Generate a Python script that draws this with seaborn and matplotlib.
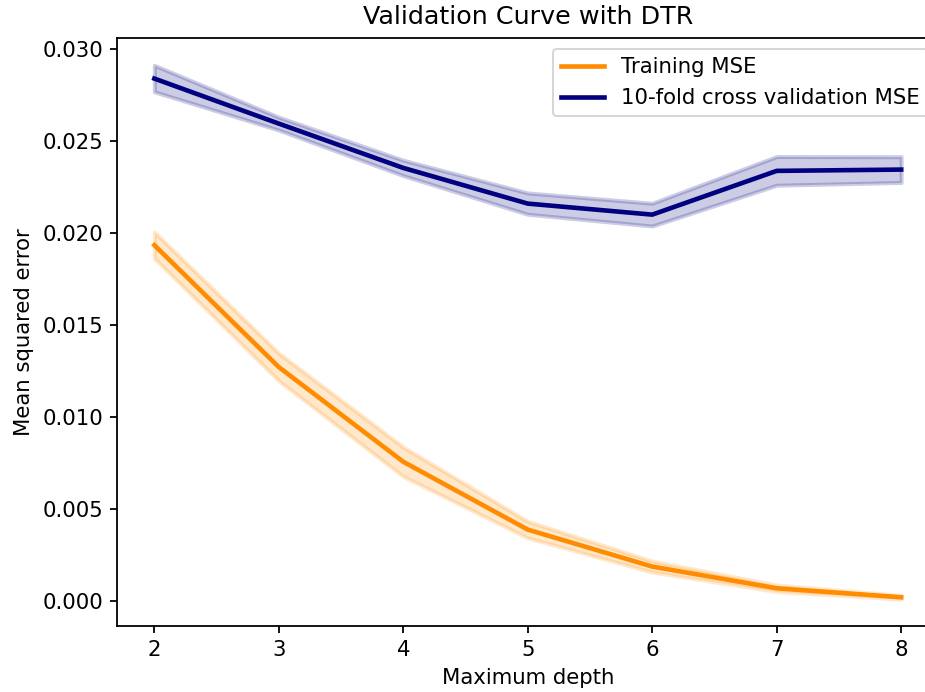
import numpy as np
import pandas as pd
import matplotlib
matplotlib.use("Agg")
import matplotlib.pyplot as plt
import seaborn as sns

depth = [2, 3, 4, 5, 6, 7, 8]
train_mse = [0.01935, 0.01272, 0.00757, 0.00388, 0.00187, 0.00069, 0.00020]
train_std = [0.00072, 0.00075, 0.00080, 0.00045, 0.00030, 0.00018, 0.00010]
cv_mse = [0.02841, 0.02596, 0.02355, 0.02161, 0.02101, 0.02339, 0.02346]
cv_std = [0.00072, 0.00035, 0.00042, 0.00058, 0.00062, 0.00078, 0.00070]

labels = ["Training MSE", "10-fold cross validation MSE"]
colors = ["darkorange", "navy"]

dpi = 144
fs = 10.6
fig = plt.figure(figsize=(925 / dpi, 692 / dpi), dpi=dpi)
ax = fig.add_axes([117 / 925, 66.4 / 692, (938.5 - 117) / 925, (625.6 - 38.3) / 692])

df = pd.DataFrame({
    "depth": depth * 2,
    "mse": train_mse + cv_mse,
    "series": [labels[0]] * len(depth) + [labels[1]] * len(depth),
})

sns.lineplot(data=df, x="depth", y="mse", hue="series", palette=dict(zip(labels, colors)),
             linewidth=2.3, ax=ax)

tm, ts = np.array(train_mse), np.array(train_std)
cm, cs = np.array(cv_mse), np.array(cv_std)
ax.fill_between(depth, tm - ts, tm + ts, alpha=0.2, color="darkorange", lw=2)
ax.fill_between(depth, cm - cs, cm + cs, alpha=0.2, color="navy", lw=2)

ax.set_xlim(1.7, 8.3)
ax.set_ylim(-0.00134, 0.0306)
ax.set_xticks(depth)
ax.set_title("Validation Curve with DTR", fontsize=12.7, pad=7)
ax.set_xlabel("Maximum depth", fontsize=fs)
ax.set_ylabel("Mean squared error", fontsize=fs)
ax.tick_params(labelsize=fs, length=3.5, width=0.9)
for s in ax.spines.values():
    s.set_linewidth(0.9)
leg = ax.legend(loc="upper right", fontsize=fs)
leg.set_title(None)

fig.savefig("out.png", dpi=dpi)
